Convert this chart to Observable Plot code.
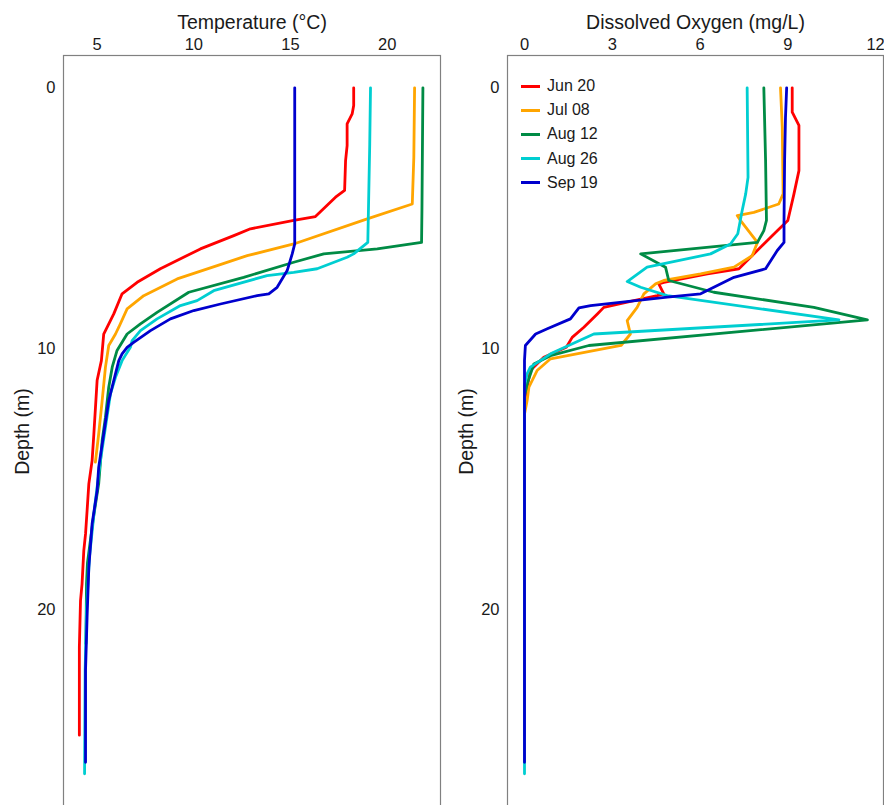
<!DOCTYPE html>
<html>
<head>
<meta charset="utf-8">
<script src="https://cdn.jsdelivr.net/npm/d3@7"></script>
<script src="https://cdn.jsdelivr.net/npm/@observablehq/plot@0.6"></script>
<style>
  html, body { margin: 0; padding: 0; background: #fff; overflow: hidden; }
  #wrap { position: relative; width: 884px; height: 805px; font-family: "Liberation Sans", Arial, sans-serif; }
  #left, #right { position: absolute; top: 0; }
  #left { left: 0; }
  #right { left: 444px; }
  #legend { position: absolute; left: 521px; top: 74px; font-size: 16px; color: #1a1a1a; }
  #legend .row { height: 24.2px; display: flex; align-items: center; }
  #legend .sw { width: 19px; height: 3px; margin-right: 7px; }
</style>
</head>
<body>
<div id="wrap">
  <div id="left"></div>
  <div id="right"></div>
  <div id="legend"></div>
</div>
<script>
// ---- series ----
const dates  = ["Jun 20", "Jul 08", "Aug 12", "Aug 26", "Sep 19"];
const colors = ["#ff0000", "#ffa500", "#008b45", "#00ced1", "#0000cd"];

// ---- temperature profiles (depth m, temperature °C) ----
const tempDepthJun20 = [0, 0.68, 1.0, 1.38, 2.21, 2.79, 3.93, 4.19, 4.93, 5.08, 5.40, 5.66, 6.17, 6.93, 7.45, 7.89, 8.66, 9.43, 10.45, 11.2, 13.26, 14.28, 15.17, 16.2, 17.09, 17.73, 19.0, 19.64, 21.43, 24.8];
const tempJun20      = [18.27, 18.27, 18.19, 17.93, 17.93, 17.85, 17.8, 17.33, 16.29, 15.17, 12.93, 12.07, 10.34, 8.27, 7.07, 6.29, 5.86, 5.34, 5.22, 5.0, 4.83, 4.74, 4.57, 4.48, 4.4, 4.31, 4.22, 4.14, 4.08, 4.08];

const tempDepthJul08 = [0, 2.66, 4.45, 5.02, 5.98, 6.43, 6.81, 7.32, 7.96, 8.47, 9.17, 9.43, 9.87, 10.7, 11.98, 13.26, 14.34];
const tempJul08      = [21.42, 21.38, 21.3, 18.97, 15.17, 12.76, 11.21, 9.14, 7.41, 6.55, 6.12, 5.95, 5.6, 5.43, 5.26, 5.08, 4.91];

const tempDepthAug12 = [0, 4.7, 5.92, 6.17, 6.36, 6.68, 7.26, 7.83, 8.6, 9.04, 9.43, 10.06, 10.7, 11.47, 12.62, 13.51, 15.17, 16.5, 18.2, 19.0, 21.3];
const tempAug12      = [21.85, 21.8, 21.78, 19.49, 16.72, 15.17, 12.58, 9.74, 8.1, 7.24, 6.55, 6.03, 5.78, 5.6, 5.43, 5.26, 5.08, 4.8, 4.5, 4.45, 4.42];

const tempDepthAug26 = [0, 2.15, 5.92, 6.36, 6.49, 6.93, 7.07, 7.19, 7.77, 8.15, 8.34, 8.85, 9.3, 9.68, 9.94, 10.45, 11.09, 11.72, 13.0, 14.28, 16.0, 18.0, 20.0, 22.3, 26.28];
const tempAug26      = [19.14, 19.1, 19.0, 18.27, 17.93, 16.38, 15.17, 13.79, 11.03, 10.17, 9.31, 8.1, 7.24, 6.81, 6.72, 6.29, 5.95, 5.69, 5.43, 5.17, 4.88, 4.6, 4.45, 4.38, 4.35];

const tempDepthSep19 = [0, 5.08, 5.98, 6.36, 7.0, 7.64, 7.89, 7.96, 8.28, 8.53, 8.85, 9.3, 9.75, 9.94, 10.19, 10.45, 11.21, 11.98, 13.26, 14.54, 15.43, 16.7, 18.37, 20.28, 22.3, 25.84];
const tempSep19      = [15.22, 15.22, 15.22, 15.09, 14.83, 14.31, 13.88, 13.28, 11.38, 10.0, 8.79, 7.76, 6.89, 6.55, 6.29, 6.12, 5.86, 5.6, 5.34, 5.08, 5.0, 4.74, 4.57, 4.48, 4.4, 4.4];

// ---- dissolved oxygen profiles (depth m, DO mg/L) ----
const doDepthJun20 = [0, 0.93, 1.44, 3.17, 4.06, 5.08, 5.47, 5.98, 6.93, 7.13, 7.45, 7.51, 7.89, 7.96, 8.15, 8.41, 8.66, 9.17, 9.56, 9.94, 10.32, 10.83, 11.47, 12.0, 24.8];
const doJun20      = [9.15, 9.15, 9.38, 9.38, 9.21, 9.0, 8.64, 8.18, 7.33, 6.25, 4.76, 4.59, 4.76, 4.54, 3.74, 2.71, 2.49, 2.03, 1.63, 1.43, 0.66, 0.2, 0.09, 0, 0];

const doDepthJul08 = [0, 1.51, 4.06, 4.45, 4.77, 4.89, 5.08, 5.92, 6.43, 6.87, 7.13, 7.38, 7.51, 7.89, 8.41, 8.92, 9.43, 9.87, 10.38, 10.83, 11.47, 11.98, 12.5, 14.34];
const doJul08      = [8.75, 8.81, 8.84, 8.69, 7.84, 7.27, 7.38, 7.96, 7.78, 7.16, 6.02, 4.76, 4.48, 4.08, 3.85, 3.51, 3.62, 3.3, 0.89, 0.43, 0.15, 0.09, 0, 0];

const doDepthAug12 = [0, 2.79, 5.08, 5.47, 5.92, 6.36, 6.87, 7.38, 7.83, 8.41, 8.89, 9.87, 10.26, 10.58, 11.34, 11.8, 21.3];
const doAug12      = [8.18, 8.24, 8.27, 8.18, 7.96, 3.97, 4.82, 4.93, 6.47, 9.89, 11.72, 2.2, 0.89, 0.32, 0.09, 0, 0];

const doDepthAug26 = [0, 3.43, 4.06, 4.7, 5.59, 5.98, 6.36, 6.87, 7.42, 7.64, 7.96, 8.89, 9.43, 10.19, 10.7, 10.96, 11.4, 26.28];
const doAug26      = [7.61, 7.64, 7.56, 7.44, 7.29, 7.04, 6.36, 4.19, 3.51, 3.97, 4.88, 10.75, 2.37, 0.89, 0.2, 0.09, 0, 0];

const doDepthSep19 = [0, 1.13, 2.79, 5.08, 5.92, 6.23, 6.93, 7.26, 7.64, 7.89, 8.02, 8.34, 8.43, 8.85, 9.23, 9.43, 9.87, 10.45, 25.84];
const doSep19      = [8.96, 8.92, 8.89, 8.87, 8.87, 8.64, 8.24, 7.16, 6.47, 6.02, 4.88, 2.26, 1.86, 1.57, 0.78, 0.38, 0.03, 0, 0];

// ---- axis ticks ----
const tempTicks  = [5, 10, 15, 20];
const doTicks    = [0, 3, 6, 9, 12];
const depthTicks = [0, 10, 20];

// ---- build tables ----
const tempSeries = [
  [tempDepthJun20, tempJun20], [tempDepthJul08, tempJul08], [tempDepthAug12, tempAug12],
  [tempDepthAug26, tempAug26], [tempDepthSep19, tempSep19]
];
const doSeries = [
  [doDepthJun20, doJun20], [doDepthJul08, doJul08], [doDepthAug12, doAug12],
  [doDepthAug26, doAug26], [doDepthSep19, doSep19]
];
function toRows(series) {
  const rows = [];
  series.forEach(([dep, val], i) => dep.forEach((d, k) => rows.push({date: dates[i], depth: d, value: val[k]})));
  return rows;
}
const tempRows = toRows(tempSeries);
const doRows = toRows(doSeries);

const FONT = "'Liberation Sans', Arial, sans-serif";

function panel(rows, xDomain, xTicks, title, width, mr) {
  return Plot.plot({
    width: width,
    height: 812,
    marginTop: 55,
    marginBottom: 5,
    marginLeft: 63,
    marginRight: mr,
    style: {fontFamily: FONT, fontSize: "16px", color: "#1a1a1a", background: "transparent", overflow: "visible"},
    x: {domain: xDomain},
    y: {domain: [-1.24, 27.57], reverse: true},
    color: {domain: dates, range: colors},
    marks: [
      Plot.frame({stroke: "#808080", strokeWidth: 1.2}),
      Plot.axisX({anchor: "top", ticks: xTicks, tickSize: 0, tickPadding: 3, dy: -3, label: null, fontSize: 16.5}),
      Plot.axisY({anchor: "left", ticks: depthTicks, tickSize: 0, tickPadding: 8, label: null, fontSize: 16.5}),
      Plot.line(rows, {x: "value", y: "depth", z: "date", stroke: "date", strokeWidth: 2.8, sort: null}),
      Plot.text([title], {frameAnchor: "top", dy: -33, lineAnchor: "middle", fontSize: 19.5, fill: "#1a1a1a"}),
      Plot.text(["Depth (m)"], {frameAnchor: "left", dx: -41, rotate: -90, textAnchor: "middle", lineAnchor: "middle", fontSize: 19.5, fill: "#1a1a1a"})
    ]
  });
}

document.getElementById("left").appendChild(
  panel(tempRows, [3.26, 22.76], tempTicks, "Temperature (°C)", 442, 2));
document.getElementById("right").appendChild(
  panel(doRows, [-0.581, 12.27], doTicks, "Dissolved Oxygen (mg/L)", 440, 1));

// legend
const lg = document.getElementById("legend");
dates.forEach((d, i) => {
  const row = document.createElement("div");
  row.className = "row";
  row.innerHTML = `<span class="sw" style="background:${colors[i]}"></span><span>${d}</span>`;
  lg.appendChild(row);
});
</script>
</body>
</html>
